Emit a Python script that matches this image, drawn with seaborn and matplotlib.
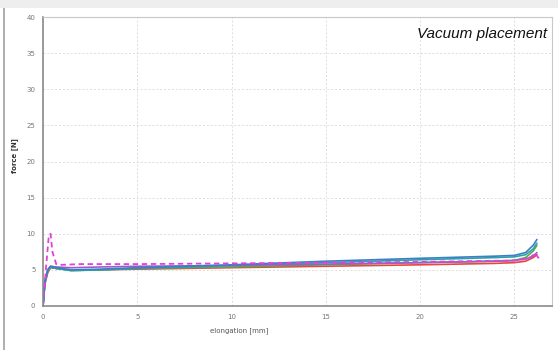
import matplotlib
matplotlib.use("Agg")
import matplotlib.pyplot as plt
import seaborn as sns
import pandas as pd
from matplotlib.patches import Rectangle

# elongation [mm] sample points shared by the solid curves
elong = [0, 0.1, 0.25, 0.4, 0.7, 1.5, 3, 5, 10, 15, 20, 24, 25, 25.6, 26, 26.2]
force_red = [0, 3.0, 4.6, 5.3, 5.2, 5.0, 5.0, 5.1, 5.3, 5.5, 5.7, 5.9, 6.0, 6.2, 6.7, 7.1]
force_green = [0, 3.2, 4.8, 5.4, 5.2, 4.9, 5.0, 5.2, 5.4, 5.7, 6.0, 6.2, 6.3, 6.7, 7.6, 8.4]
force_teal = [0, 3.3, 4.9, 5.4, 5.2, 4.9, 5.0, 5.2, 5.6, 6.0, 6.4, 6.7, 6.8, 7.1, 7.9, 8.7]
force_blue = [0, 3.4, 5.0, 5.5, 5.3, 5.0, 5.1, 5.3, 5.7, 6.2, 6.6, 6.9, 7.0, 7.4, 8.4, 9.2]
force_purple = [0, 3.5, 5.0, 5.5, 5.4, 5.3, 5.4, 5.5, 5.6, 5.8, 6.0, 6.2, 6.3, 6.5, 6.9, 7.4]

# dashed magenta curve has its own sampling (spike at start)
elong_mag = [0, 0.15, 0.3, 0.4, 0.5, 0.7, 1, 2, 5, 10, 15, 20, 25, 25.8, 26.1, 26.3]
force_mag = [0, 5.0, 9.5, 10.0, 7.5, 5.8, 5.7, 5.8, 5.8, 5.9, 6.0, 6.1, 6.3, 6.6, 7.3, 6.6]

x_ticks = [0, 5, 10, 15, 20, 25]
y_ticks = [0, 5, 10, 15, 20, 25, 30, 35, 40]

sns.set_style("white")
fig = plt.figure(figsize=(5.58, 3.5), dpi=100)
fig.patch.set_facecolor("white")

# screenshot frame: grey top band and left edge
fig.add_artist(Rectangle((0, 1 - 8 / 350), 1, 8 / 350, transform=fig.transFigure,
                         facecolor="#eeeeee", edgecolor="none"))
fig.add_artist(Rectangle((3 / 558, 0), 1.5 / 558, 1 - 8 / 350, transform=fig.transFigure,
                         facecolor="#b0b0b0", edgecolor="none"))

ax = fig.add_axes([43 / 558, 1 - 306 / 350, (552 - 43) / 558, (306 - 17) / 350])

curves = [
    (force_red, "#e8473b"),
    (force_green, "#5aa84a"),
    (force_teal, "#2aa6a0"),
    (force_purple, "#9a5fc6"),
    (force_blue, "#3a7fc8"),
]
for ys, c in curves:
    sns.lineplot(x=elong, y=ys, ax=ax, color=c, linewidth=1.2)
sns.lineplot(x=elong_mag, y=force_mag, ax=ax, color="#e040e0", linewidth=1.3,
             linestyle=(0, (3, 2)))

ax.set_xlim(0, 27)
ax.set_ylim(0, 40)
ax.set_xticks(x_ticks)
ax.set_yticks(y_ticks)
ax.tick_params(axis="both", labelsize=5, colors="#777777", length=2, width=0.6)
ax.grid(True, color="#dddddd", linestyle=(0, (2, 2)), linewidth=0.7)
for side in ["left", "bottom"]:
    ax.spines[side].set_color("#8a8a8a")
    ax.spines[side].set_linewidth(1.2)
for side in ["top", "right"]:
    ax.spines[side].set_color("#c8c8c8")
    ax.spines[side].set_linewidth(0.8)

ax.set_xlabel("elongation [mm]", fontsize=5, color="#555555")
ax.set_ylabel("force [N]", fontsize=5, color="#333333", fontweight="bold")
ax.xaxis.set_label_coords(0.385, -0.075)
ax.yaxis.set_label_coords(-0.05, 0.52)

ax.text(0.99, 0.965, "Vacuum placement", transform=ax.transAxes, ha="right", va="top",
        fontsize=11, style="italic", color="#111111", family="Liberation Sans")

fig.savefig("out.png", dpi=100)
